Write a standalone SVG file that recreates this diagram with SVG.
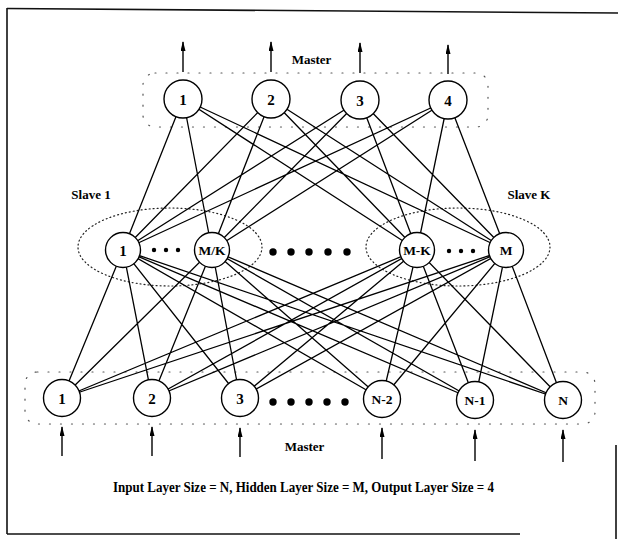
<svg xmlns="http://www.w3.org/2000/svg" width="618" height="539" viewBox="0 0 618 539">
<style>
.frame{stroke:#111;stroke-width:1.6;fill:none}
.edge{stroke:#000;stroke-width:1.3;fill:none}
.node{fill:#fff;stroke:#000;stroke-width:1.4}
.lbl{font-family:"Liberation Serif","Times New Roman",serif;font-weight:bold;fill:#000;text-anchor:middle}
.num{font-size:15px}
.sm{font-size:13.5px}
.grp{fill:none;stroke:#555;stroke-width:1.2;stroke-dasharray:1 10;stroke-linecap:round}
.ell{fill:none;stroke:#222;stroke-width:1.2;stroke-dasharray:1 3;stroke-linecap:round}
.arr{stroke:#000;stroke-width:1.4}
</style>
<defs>
<marker id="ah" viewBox="0 0 10 5" refX="9" refY="2.5" markerWidth="10" markerHeight="5" orient="auto" markerUnits="userSpaceOnUse">
<path d="M0,0 L10,2.5 L0,5 Z" fill="#000"/>
</marker>
</defs>
<rect width="618" height="539" fill="#fff"/>
<g id="frame">
<line class="frame" x1="7" y1="8.5" x2="618" y2="13"/>
<line class="frame" x1="7" y1="8" x2="7" y2="534"/>
<line class="frame" x1="7" y1="534" x2="520" y2="534"/>
<line class="frame" x1="616" y1="445" x2="616" y2="539"/>
</g>
<g id="groups">
<rect class="grp" x="143" y="73" width="345" height="54" rx="12"/>
<rect class="grp" x="25" y="372" width="570" height="52" rx="12"/>
<ellipse id="slave1" class="ell" cx="170" cy="247" rx="92" ry="39"/>
<ellipse id="slaveK" class="ell" cx="458" cy="247" rx="92" ry="39"/>
</g>
<g id="connectors">
<path class="edge" d="M183,99L123,250M183,99L212,250M183,99L417,250M183,99L506,250
M271,99L123,250M271,99L212,250M271,99L417,250M271,99L506,250
M360,100L123,250M360,100L212,250M360,100L417,250M360,100L506,250
M448,100L123,250M448,100L212,250M448,100L417,250M448,100L506,250"/>
<path class="edge" d="M62,398L123,250M62,398L212,250M62,398L417,250M62,398L506,250
M152,398L123,250M152,398L212,250M152,398L417,250M152,398L506,250
M240,398L123,250M240,398L212,250M240,398L417,250M240,398L506,250
M382,399L123,250M382,399L212,250M382,399L417,250M382,399L506,250
M475,400L123,250M475,400L212,250M475,400L417,250M475,400L506,250
M563,400L123,250M563,400L212,250M563,400L417,250M563,400L506,250"/>
<line class="arr" x1="183" y1="72" x2="183" y2="42" marker-end="url(#ah)"/>
<line class="arr" x1="271" y1="72" x2="271" y2="42" marker-end="url(#ah)"/>
<line class="arr" x1="360" y1="73" x2="360" y2="43" marker-end="url(#ah)"/>
<line class="arr" x1="448" y1="74" x2="448" y2="45" marker-end="url(#ah)"/>
<line class="arr" x1="62" y1="456" x2="62" y2="427" marker-end="url(#ah)"/>
<line class="arr" x1="152" y1="456" x2="152" y2="427" marker-end="url(#ah)"/>
<line class="arr" x1="240" y1="457" x2="240" y2="428" marker-end="url(#ah)"/>
<line class="arr" x1="382" y1="459" x2="382" y2="428" marker-end="url(#ah)"/>
<line class="arr" x1="475" y1="461" x2="475" y2="430" marker-end="url(#ah)"/>
<line class="arr" x1="563" y1="462" x2="563" y2="430" marker-end="url(#ah)"/>
</g>
<g id="out1"><circle class="node" cx="183" cy="99" r="19"/><text class="lbl num" x="183" y="104.5">1</text></g>
<g id="out2"><circle class="node" cx="271" cy="99" r="19"/><text class="lbl num" x="271" y="104.5">2</text></g>
<g id="out3"><circle class="node" cx="360" cy="100" r="19"/><text class="lbl num" x="360" y="105.5">3</text></g>
<g id="out4"><circle class="node" cx="448" cy="100" r="19"/><text class="lbl num" x="448" y="105.5">4</text></g>
<g id="hid1"><circle class="node" cx="123" cy="250" r="17.5"/><text class="lbl num" x="123" y="255.5">1</text></g>
<g id="hidMK"><circle class="node" cx="212" cy="250" r="17.5"/><text class="lbl sm" x="212" y="254.5">M/K</text></g>
<g id="hidM-K"><circle class="node" cx="417" cy="250" r="17.5"/><text class="lbl sm" x="417" y="254.5">M-K</text></g>
<g id="hidM"><circle class="node" cx="506" cy="250" r="17.5"/><text class="lbl sm" x="506" y="254.5">M</text></g>
<g id="in1"><circle class="node" cx="62" cy="398" r="18.5"/><text class="lbl num" x="62" y="403.5">1</text></g>
<g id="in2"><circle class="node" cx="152" cy="398" r="18.5"/><text class="lbl num" x="152" y="403.5">2</text></g>
<g id="in3"><circle class="node" cx="240" cy="398" r="18.5"/><text class="lbl num" x="240" y="403.5">3</text></g>
<g id="inN-2"><circle class="node" cx="382" cy="399" r="18.5"/><text class="lbl sm" x="382" y="403.5">N-2</text></g>
<g id="inN-1"><circle class="node" cx="475" cy="400" r="18.5"/><text class="lbl sm" x="475" y="404.5">N-1</text></g>
<g id="inN"><circle class="node" cx="563" cy="400" r="18.5"/><text class="lbl sm" x="563" y="404.5">N</text></g>
<g id="ellipses" fill="#000">
<circle cx="154" cy="250" r="2.2"/><circle cx="166" cy="250" r="2.2"/><circle cx="178" cy="250" r="2.2"/>
<circle cx="449" cy="251" r="2.2"/><circle cx="461" cy="251" r="2.2"/><circle cx="473" cy="251" r="2.2"/>
<circle cx="273" cy="252" r="3.7"/><circle cx="291" cy="252" r="3.7"/><circle cx="309" cy="252" r="3.7"/><circle cx="328" cy="252" r="3.7"/><circle cx="347" cy="252" r="3.7"/>
<circle cx="273" cy="402" r="3.7"/><circle cx="291" cy="402" r="3.7"/><circle cx="309" cy="402" r="3.7"/><circle cx="327" cy="402" r="3.7"/><circle cx="345" cy="402" r="3.7"/>
</g>
<g id="labels">
<text class="lbl" font-size="13" x="311.5" y="64">Master</text>
<text class="lbl" font-size="13" x="304.5" y="451">Master</text>
<text class="lbl" font-size="13" x="91" y="199">Slave 1</text>
<text class="lbl" font-size="13" x="529" y="199">Slave K</text>
<text class="lbl" font-size="14" x="303.5" y="492" textLength="381" lengthAdjust="spacingAndGlyphs">Input Layer Size = N, Hidden Layer Size = M, Output Layer Size = 4</text>
</g>
</svg>
